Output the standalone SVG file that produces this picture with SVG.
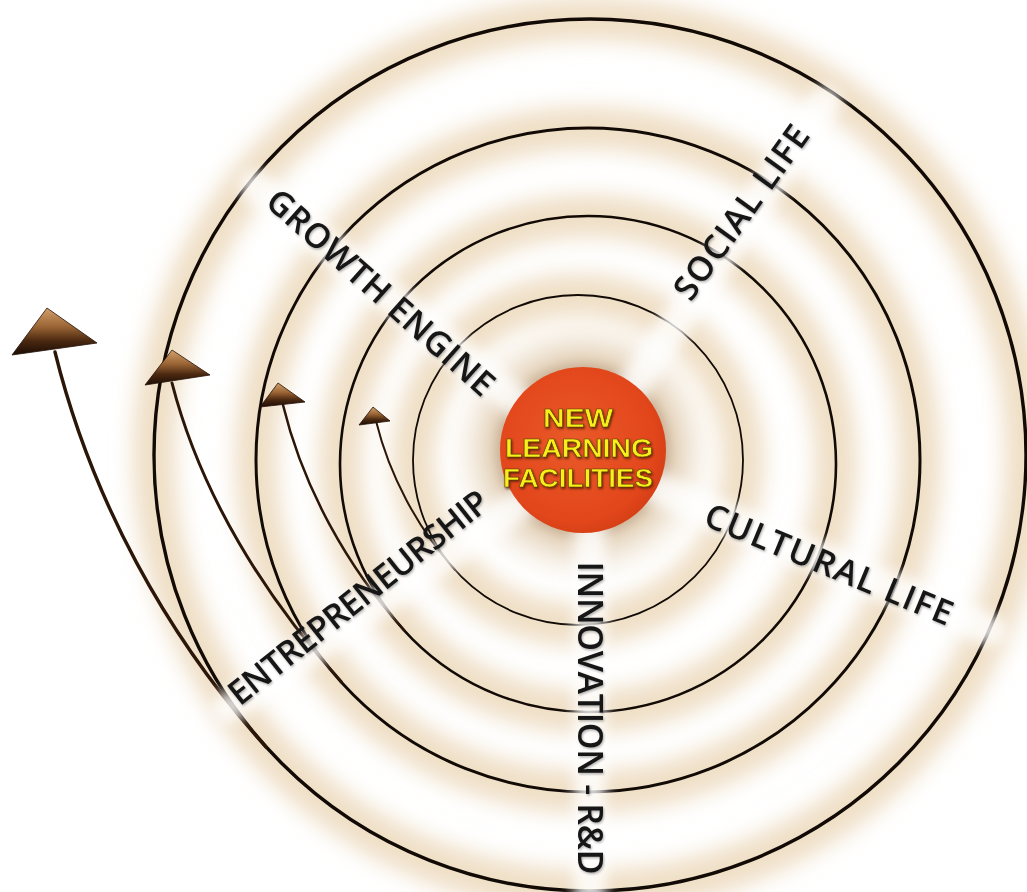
<svg xmlns="http://www.w3.org/2000/svg" width="1027" height="892" viewBox="0 0 1027 892">
<defs>
<filter id="blurBig" x="-20%" y="-20%" width="140%" height="140%"><feGaussianBlur stdDeviation="11"/></filter>
<filter id="blurMid" x="-20%" y="-20%" width="140%" height="140%"><feGaussianBlur stdDeviation="7"/></filter>
<filter id="txtShadow" x="-10%" y="-10%" width="120%" height="120%"><feDropShadow dx="1" dy="1.5" stdDeviation="1" flood-color="#000" flood-opacity="0.3"/></filter>
<filter id="yShadow" x="-10%" y="-10%" width="120%" height="120%"><feDropShadow dx="1" dy="1.5" stdDeviation="0.8" flood-color="#3a1d00" flood-opacity="0.8"/></filter>
<linearGradient id="headGrad" x1="0" y1="0" x2="0" y2="1">
<stop offset="0" stop-color="#d3a06b"/>
<stop offset="0.4" stop-color="#9a6434"/>
<stop offset="0.7" stop-color="#4a2810"/>
<stop offset="1" stop-color="#1a0c04"/>
</linearGradient>
<radialGradient id="coreGrad" cx="0.45" cy="0.45" r="0.6">
<stop offset="0" stop-color="#ea5a28"/>
<stop offset="0.8" stop-color="#e2461b"/>
<stop offset="1" stop-color="#d23d14"/>
</radialGradient>
<radialGradient id="haloGrad" cx="0.5" cy="0.5" r="0.5">
<stop offset="0.5" stop-color="#9b7652" stop-opacity="0.9"/>
<stop offset="0.68" stop-color="#d6bb96" stop-opacity="0.6"/>
<stop offset="1" stop-color="#f3e6d2" stop-opacity="0"/>
</radialGradient>
<style>
.glow{fill:none;stroke:#ebd6b6;stroke-width:42;opacity:0.8}
.ring{fill:none;stroke:#120a04}
.shaft{fill:none;stroke:#2b1608;stroke-linecap:round}
.ray{stroke:#ffffff;stroke-width:32;opacity:0.8;stroke-linecap:round}
.head{fill:url(#headGrad);stroke:#24120a;stroke-width:0.8;stroke-linejoin:round}
.lbl{font-family:"Open Sans","Noto Sans",sans-serif;font-size:34px;font-weight:600;fill:#141414}
.core{font-family:"Liberation Sans",Arial,sans-serif;font-size:26.5px;font-weight:bold;fill:#f8ee1c;stroke:#5b3b00;stroke-width:0.6;text-anchor:middle}
</style>
</defs>
<rect width="1027" height="892" fill="#ffffff"/>
<g id="glows" filter="url(#blurBig)">
<circle class="glow" cx="590" cy="455" r="436"/>
<circle class="glow" cx="588" cy="460" r="332"/>
<circle class="glow" cx="588" cy="464" r="248"/>
<circle class="glow" cx="578" cy="460" r="165"/>
</g>
<circle cx="583" cy="450" r="138" fill="url(#haloGrad)"/>
<g id="rings">
<circle class="ring" cx="590" cy="455" r="436" stroke-width="3.4"/>
<circle class="ring" cx="588" cy="460" r="332" stroke-width="3"/>
<circle class="ring" cx="588" cy="464" r="248" stroke-width="2.6"/>
<circle class="ring" cx="578" cy="460" r="165" stroke-width="1.8"/>
</g>
<g id="connectors">
<path class="shaft" d="M266,747 C166,636 91,498 55,352" stroke-width="3.4"/>
<path class="shaft" d="M341.5,682 C264.5,596.6 200.75,494.5 172,383" stroke-width="3"/>
<path class="shaft" d="M404,630 C347,567 303,487 283,405" stroke-width="2.5"/>
<path class="shaft" d="M455,570 C417.5,528.4 389.4,475.3 376,421" stroke-width="2"/>
</g>
<g id="rays" filter="url(#blurMid)">
<line class="ray" x1="585" y1="458" x2="255" y2="186"/>
<line class="ray" x1="585" y1="458" x2="825" y2="102"/>
<line class="ray" x1="585" y1="458" x2="990" y2="630"/>
<line class="ray" x1="590" y1="458" x2="590" y2="900"/>
<line class="ray" x1="585" y1="458" x2="228" y2="708"/>
</g>
<g id="arrowheads">
<polygon class="head" points="47,308 97,343 12,355"/>
<polygon class="head" points="172,350 210,375 145,385"/>
<polygon class="head" points="278,383 305,402 260,407"/>
<polygon class="head" points="373,407 390,421 359,425"/>
</g>
<g id="node-center">
<circle cx="583" cy="450" r="83" fill="url(#coreGrad)"/>
<text class="core" filter="url(#yShadow)"><tspan x="578" y="427" textLength="70" lengthAdjust="spacingAndGlyphs">NEW</tspan><tspan x="579" y="457" textLength="148" lengthAdjust="spacingAndGlyphs">LEARNING</tspan><tspan x="578" y="487" textLength="150" lengthAdjust="spacingAndGlyphs">FACILITIES</tspan></text>
</g>
<g id="node-growth" filter="url(#txtShadow)">
<text class="lbl" text-anchor="middle" dy="0.36em" transform="translate(381,292) rotate(41.6)" textLength="292" lengthAdjust="spacing">GROWTH ENGINE</text>
</g>
<g id="node-social" filter="url(#txtShadow)">
<text class="lbl" text-anchor="middle" dy="0.36em" transform="translate(741,212) rotate(-54.2)" textLength="206" lengthAdjust="spacing">SOCIAL LIFE</text>
</g>
<g id="node-cultural" filter="url(#txtShadow)">
<text class="lbl" text-anchor="middle" dy="0.36em" transform="translate(829,564) rotate(22.5)" textLength="265" lengthAdjust="spacing">CULTURAL LIFE</text>
</g>
<g id="node-innovation" filter="url(#txtShadow)">
<text class="lbl" text-anchor="middle" dy="0.36em" transform="translate(590,718) rotate(90)" textLength="313" lengthAdjust="spacing">INNOVATION - R&amp;D</text>
</g>
<g id="node-entrepreneurship" filter="url(#txtShadow)">
<text class="lbl" text-anchor="middle" dy="0.36em" transform="translate(358,597) rotate(-38.5)" textLength="322" lengthAdjust="spacing">ENTREPRENEURSHIP</text>
</g>
</svg>
